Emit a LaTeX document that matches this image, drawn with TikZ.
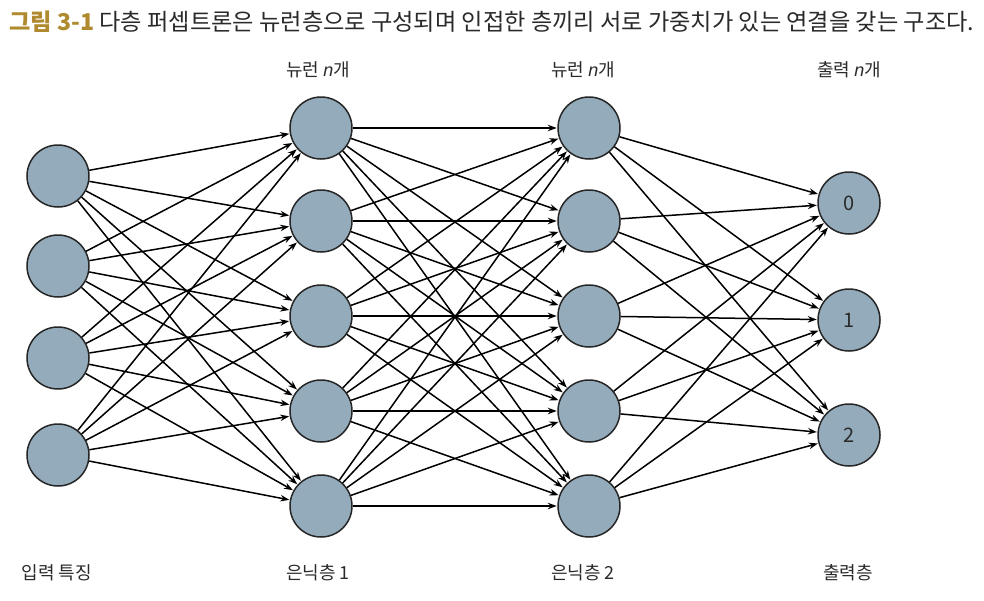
\documentclass[tikz,border=0pt]{standalone}
\usepackage{fontspec}
\setmainfont{Noto Sans CJK KR}
\newfontfamily\latinit{Liberation Sans}
\newcommand{\nvar}{{\latinit\itshape n}}
\usetikzlibrary{arrows.meta}
\definecolor{nfill}{HTML}{93ABBA}
\definecolor{titlegold}{HTML}{B08A2E}
\definecolor{txt}{HTML}{2A2A2A}
\begin{document}
\begin{tikzpicture}[x=1pt,y=-1pt,
  neuron/.style={circle,draw=black!85,line width=1.5pt,fill=nfill,minimum size=62pt,inner sep=0pt,font=\fontsize{20}{20}\selectfont,text=txt},
  conn/.style={line width=1.5pt,-{Stealth[length=9pt,width=6.5pt]},shorten >=0.5pt},
  lbl/.style={font=\fontsize{18}{18}\selectfont,text=txt}]
\useasboundingbox (0,0) rectangle (984,600);
\node[anchor=west,inner sep=0pt,font=\fontsize{23.2}{23.2}\selectfont] (title) at (9,22)
  {\textcolor{titlegold}{\bfseries 그림 3-1}\ \textcolor{txt}{다층 퍼셉트론은 뉴런층으로 구성되며 인접한 층끼리 서로 가중치가 있는 연결을 갖는 구조다.}};
% input layer
\foreach \i/\y in {1/176,2/266,3/358,4/455}
  \node[neuron] (i\i) at (58,\y) {};
% hidden 1
\foreach \i/\y in {1/128,2/221,3/316,4/411,5/506}
  \node[neuron] (a\i) at (321,\y) {};
% hidden 2
\foreach \i/\y in {1/128,2/221,3/316,4/411,5/506}
  \node[neuron] (b\i) at (589,\y) {};
% output
\node[neuron] (o1) at (849,203) {0};
\node[neuron] (o2) at (849,320) {1};
\node[neuron] (o3) at (849,435) {2};
% connections
\foreach \s in {1,...,4}
  \foreach \t in {1,...,5}
    \draw[conn] (i\s) -- (a\t);
\foreach \s in {1,...,5}
  \foreach \t in {1,...,5}
    \draw[conn] (a\s) -- (b\t);
\foreach \s in {1,...,5}
  \foreach \t in {1,...,3}
    \draw[conn] (b\s) -- (o\t);
% labels
\node[lbl] (t1) at (318,70) {뉴런 \nvar{}개};
\node[lbl] (t2) at (583,70) {뉴런 \nvar{}개};
\node[lbl] (t3) at (849,70) {출력 \nvar{}개};
\node[lbl] (l0) at (57,573) {입력 특징};
\node[lbl] (l1) at (318,573) {은닉층 1};
\node[lbl] (l2) at (583,573) {은닉층 2};
\node[lbl] (l3) at (848,573) {출력층};
\end{tikzpicture}
\end{document}
